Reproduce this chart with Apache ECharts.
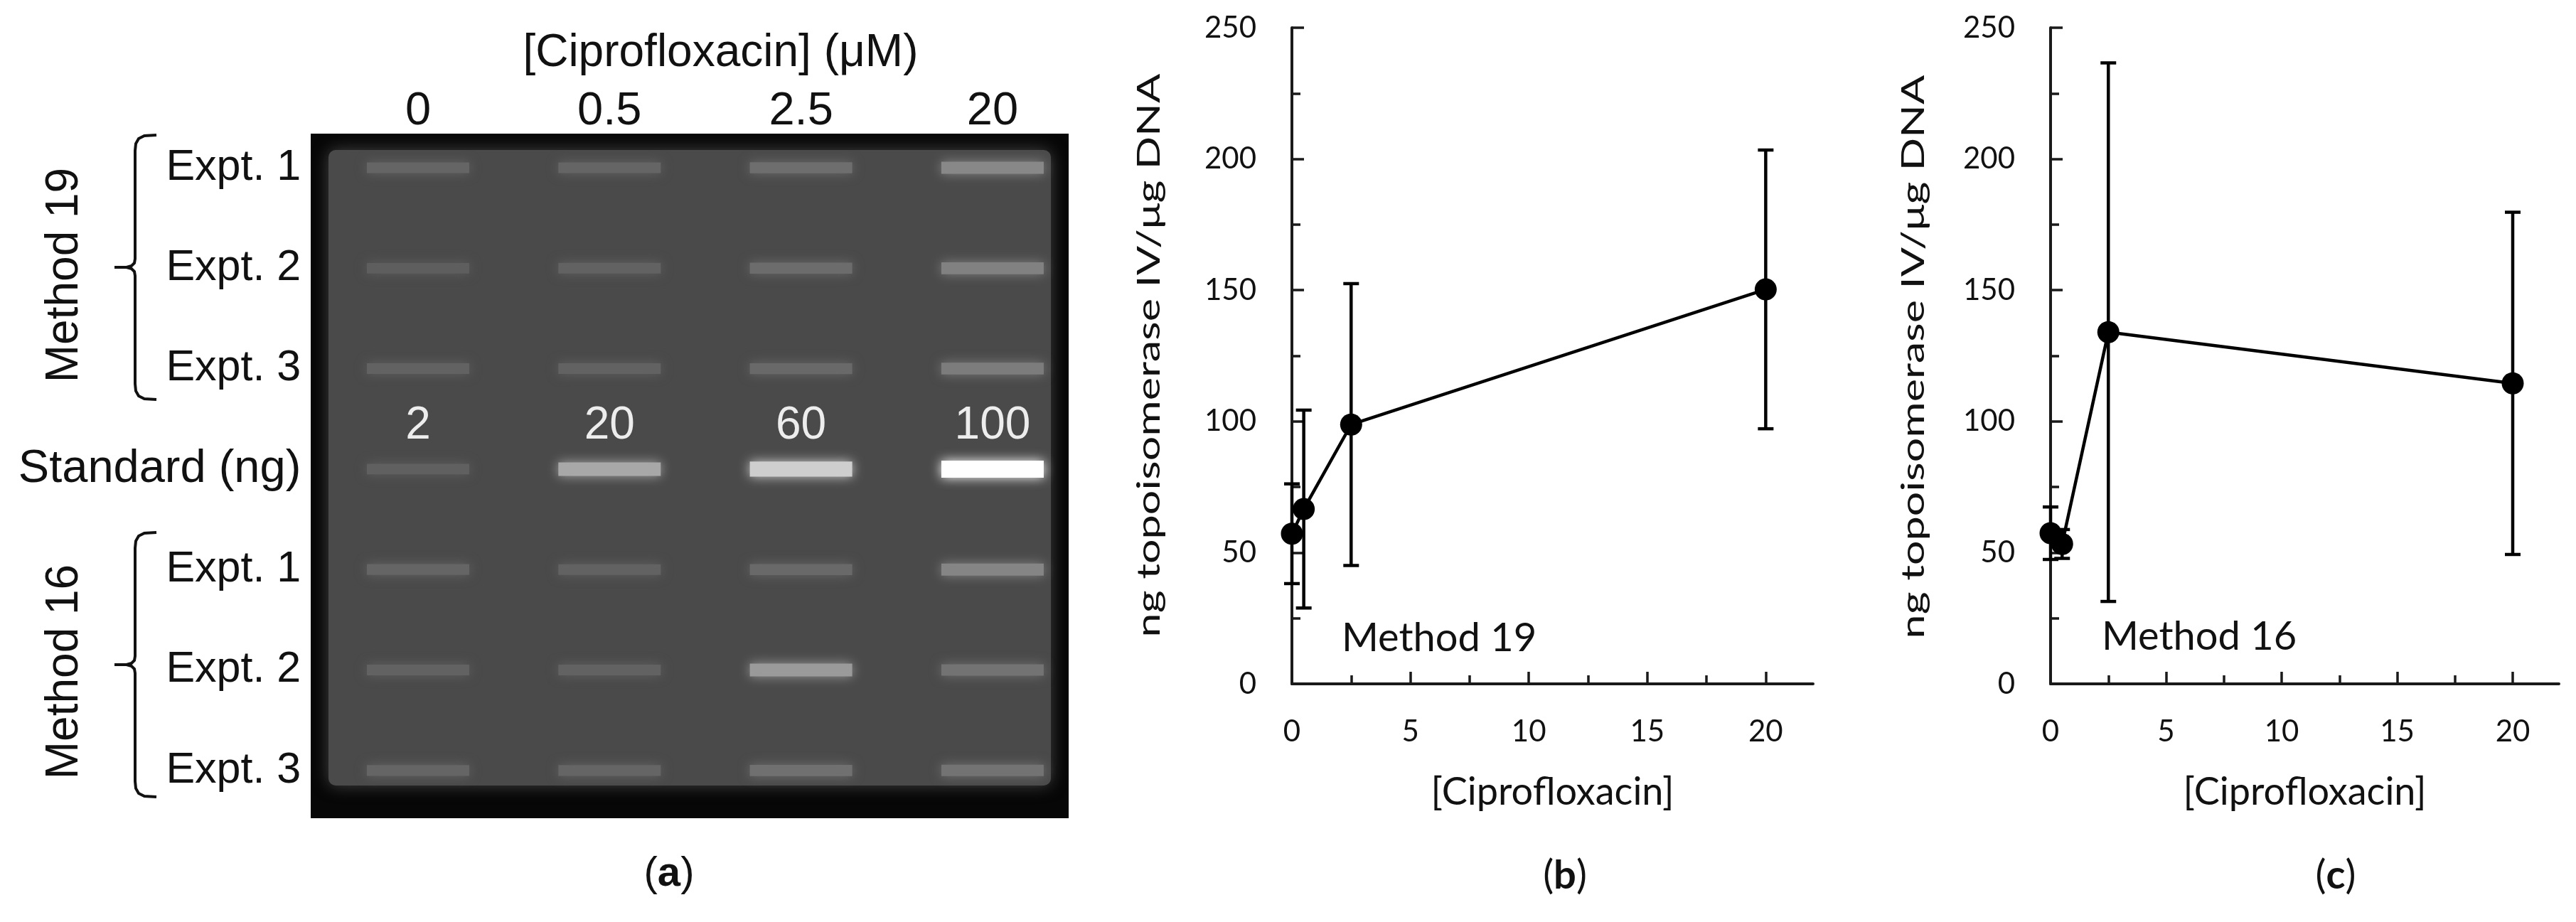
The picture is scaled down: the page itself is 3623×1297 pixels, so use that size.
<!DOCTYPE html>
<html>
<head>
<meta charset="utf-8">
<script src="https://cdn.jsdelivr.net/npm/echarts@6/dist/echarts.min.js"></script>
<style>
html,body{margin:0;padding:0;background:#ffffff;}
#chart{width:3623px;height:1297px;}
</style>
</head>
<body>
<div id="chart"></div>
<script>
// ---------- data ----------
const laneLabels = ['0', '0.5', '2.5', '20'];
const rowLabels = ['Expt. 1', 'Expt. 2', 'Expt. 3', 'Standard (ng)', 'Expt. 1', 'Expt. 2', 'Expt. 3'];
const standardNg = [2, 20, 60, 100];
// relative band brightness (0..1) for lanes 0, 0.5, 2.5, 20 µM
const bandM19E1 = [0.12, 0.12, 0.17, 0.32];
const bandM19E2 = [0.08, 0.10, 0.16, 0.28];
const bandM19E3 = [0.10, 0.10, 0.14, 0.25];
const bandStd   = [0.09, 0.50, 0.72, 1.00];
const bandM16E1 = [0.12, 0.10, 0.14, 0.30];
const bandM16E2 = [0.10, 0.10, 0.42, 0.20];
const bandM16E3 = [0.12, 0.12, 0.18, 0.20];

const conc = [0, 0.5, 2.5, 20];
const m19Mean = [57.2, 66.6, 98.8, 150.3];
const m19Err  = [19.0, 37.7, 53.7, 53.1];
const m16Mean = [57.4, 53.3, 134.0, 114.5];
const m16Err  = [10.0, 5.5, 102.6, 65.2];

const xMajorTicks = [0, 5, 10, 15, 20];
const xMinorTicks = [2.5, 7.5, 12.5, 17.5];
const yTitle = 'ng topoisomerase IV/\u03bcg DNA';
const xTitle = '[Ciprofloxacin]';

// ---------- build ----------
const ARIAL = 'Liberation Sans';
const CAL = 'Lato';
const INK = '#111111';

const gelRows = [bandM19E1, bandM19E2, bandM19E3, bandStd, bandM16E1, bandM16E2, bandM16E3];
const gelData = [];
gelRows.forEach(function (row, r) {
  row.forEach(function (v, c) {
    const g = Math.round(80 + v * 175);
    const col = 'rgb(' + g + ',' + g + ',' + g + ')';
    const item = { value: [c, r, v], itemStyle: { color: col, shadowColor: col } };
    if (r === 3) item.label = { show: true, formatter: String(standardNg[c]) };
    gelData.push(item);
  });
});

function errData(mean, err) {
  return conc.map(function (x, i) { return [x, mean[i] - err[i], mean[i] + err[i]]; });
}
function lineData(mean) {
  return conc.map(function (x, i) { return [x, mean[i]]; });
}
function renderErr(params, api) {
  const x = api.value(0), lo = api.value(1), hi = api.value(2);
  const p1 = api.coord([x, lo]), p2 = api.coord([x, hi]);
  const hw = 11;
  const st = { stroke: '#000', lineWidth: 4.5 };
  return {
    type: 'group',
    children: [
      { type: 'line', shape: { x1: p1[0], y1: p1[1], x2: p2[0], y2: p2[1] }, style: st },
      { type: 'line', shape: { x1: p1[0] - hw, y1: p1[1], x2: p1[0] + hw, y2: p1[1] }, style: st },
      { type: 'line', shape: { x1: p2[0] - hw, y1: p2[1], x2: p2[0] + hw, y2: p2[1] }, style: st }
    ]
  };
}

function valueX(gridIndex) {
  return {
    type: 'value', gridIndex: gridIndex, min: 0, max: 22, position: 'bottom',
    axisLine: { show: true, onZero: false, lineStyle: { color: '#1a1a1a', width: 4 } },
    axisTick: { show: true, inside: true, length: 17, customValues: xMajorTicks, lineStyle: { color: '#1a1a1a', width: 3.5 } },
    axisLabel: { show: true, customValues: xMajorTicks, margin: 46, fontSize: 42, fontFamily: CAL, color: INK },
    splitLine: { show: false },
    name: xTitle, nameLocation: 'middle', nameGap: 126,
    nameTextStyle: { fontSize: 54, fontFamily: CAL, color: INK }
  };
}
function minorX(gridIndex) {
  return {
    type: 'value', gridIndex: gridIndex, min: 0, max: 22, position: 'bottom',
    axisLine: { show: false, onZero: false },
    axisTick: { show: true, inside: true, length: 12, customValues: xMinorTicks, lineStyle: { color: '#1a1a1a', width: 3.5 } },
    axisLabel: { show: false },
    splitLine: { show: false }
  };
}
function valueY(gridIndex) {
  return {
    type: 'value', gridIndex: gridIndex, min: 0, max: 250, interval: 50,
    axisLine: { show: true, onZero: false, lineStyle: { color: '#1a1a1a', width: 4 } },
    axisTick: { show: true, inside: true, length: 17, lineStyle: { color: '#1a1a1a', width: 3.5 } },
    minorTick: { show: true, splitNumber: 2, length: 12, lineStyle: { color: '#1a1a1a', width: 3.5 } },
    axisLabel: { margin: 50, fontSize: 42, fontFamily: CAL, color: INK },
    splitLine: { show: false }
  };
}

// curly-ish bracket as two polylines
function bracket(top, mid, bot) {
  const xr = 220, xv = 190, xt = 161;
  const st = { stroke: '#111', lineWidth: 4, fill: null };
  return [
    { type: 'polyline', shape: { points: [[xr, top], [203, top + 1], [195, top + 5], [191, top + 12], [xv, top + 22],
      [xv, mid - 12], [189, mid - 6], [185, mid - 2], [178, mid], [xt, mid]] }, style: st },
    { type: 'polyline', shape: { points: [[178, mid], [185, mid + 2], [189, mid + 6], [xv, mid + 12],
      [xv, bot - 22], [191, bot - 12], [195, bot - 5], [203, bot - 1], [xr, bot]] }, style: st }
  ];
}

const graphics = [
  { type: 'rect', z: 0, shape: { x: 437, y: 188, width: 1066, height: 963 }, style: { fill: '#070707' } },
  { type: 'rect', z: 0, shape: { x: 462, y: 211, width: 1016, height: 894, r: 10 },
    style: { fill: '#4a4a4a', shadowBlur: 22, shadowColor: '#444444' } },
  { type: 'text', x: 91, y: 387, rotation: Math.PI / 2,
    style: { text: 'Method 19', fontSize: 64, fontFamily: ARIAL, fill: INK, align: 'center', verticalAlign: 'middle' } },
  { type: 'text', x: 91, y: 945, rotation: Math.PI / 2,
    style: { text: 'Method 16', fontSize: 64, fontFamily: ARIAL, fill: INK, align: 'center', verticalAlign: 'middle' } },
  { type: 'text', x: 941, y: 1230,
    style: { text: '({b|a})', fontSize: 58, fontFamily: ARIAL, fill: INK, align: 'center', verticalAlign: 'middle',
      rich: { b: { fontSize: 58, fontFamily: ARIAL, fontWeight: 'bold', fill: INK } } } },
  { type: 'text', x: 1617, y: 500, rotation: Math.PI / 2, scaleX: 1.39,
    style: { text: yTitle, fontSize: 44, fontFamily: CAL, fill: INK, align: 'center', verticalAlign: 'middle' } },
  { type: 'text', x: 2692, y: 502, rotation: Math.PI / 2, scaleX: 1.39,
    style: { text: yTitle, fontSize: 44, fontFamily: CAL, fill: INK, align: 'center', verticalAlign: 'middle' } },
  { type: 'text', x: 2024, y: 898,
    style: { text: 'Method 19', fontSize: 56, fontFamily: CAL, fill: INK, align: 'center', verticalAlign: 'middle' } },
  { type: 'text', x: 3093, y: 896,
    style: { text: 'Method 16', fontSize: 56, fontFamily: CAL, fill: INK, align: 'center', verticalAlign: 'middle' } },
  { type: 'text', x: 2201, y: 1232,
    style: { text: '({b|b})', fontSize: 56, fontFamily: CAL, fill: INK, align: 'center', verticalAlign: 'middle',
      rich: { b: { fontSize: 56, fontFamily: CAL, fontWeight: 'bold', fill: INK } } } },
  { type: 'text', x: 3285, y: 1232,
    style: { text: '({b|c})', fontSize: 56, fontFamily: CAL, fill: INK, align: 'center', verticalAlign: 'middle',
      rich: { b: { fontSize: 56, fontFamily: CAL, fontWeight: 'bold', fill: INK } } } }
].concat(bracket(190, 376, 562), bracket(749, 935, 1121));

const option = {
  animation: false,
  backgroundColor: '#ffffff',
  grid: [
    { left: 453.3, top: 165.35, width: 1077.3, height: 989.1 },
    { left: 1817, top: 39, width: 733, height: 923 },
    { left: 2884, top: 39, width: 715, height: 923 }
  ],
  xAxis: [
    {
      type: 'category', gridIndex: 0, data: laneLabels, position: 'top',
      axisLine: { show: false }, axisTick: { show: false }, splitLine: { show: false },
      axisLabel: { interval: 0, margin: -24, fontSize: 65, fontFamily: ARIAL, color: INK },
      name: '[Ciprofloxacin] (\u03bcM)', nameLocation: 'middle', nameGap: 58,
      nameTextStyle: { fontSize: 64, fontFamily: ARIAL, color: INK, padding: [0, 0, 0, 43] }
    },
    valueX(1), minorX(1),
    valueX(2), minorX(2)
  ],
  yAxis: [
    {
      type: 'category', gridIndex: 0, data: rowLabels, inverse: true,
      axisLine: { show: false }, axisTick: { show: false }, splitLine: { show: false },
      axisLabel: {
        interval: 0, margin: 30, fontSize: 61, fontFamily: ARIAL, color: INK,
        formatter: function (v, i) { return i === 3 ? '{s|' + v + '}' : v; },
        rich: { s: { fontSize: 65, fontFamily: ARIAL, color: INK } }
      }
    },
    valueY(1), valueY(2)
  ],
  graphic: graphics,
  series: [
    {
      type: 'scatter', xAxisIndex: 0, yAxisIndex: 0, symbol: 'rect', silent: true, z: 3,
      symbolSize: function (v) { return [144, 14 + v[2] * 10]; },
      itemStyle: { shadowBlur: 16, opacity: 1 },
      label: { show: false, position: 'inside', offset: [0, -61], color: '#ededed', fontSize: 64, fontFamily: ARIAL },
      data: gelData
    },
    {
      type: 'custom', xAxisIndex: 1, yAxisIndex: 1, renderItem: renderErr,
      encode: { x: 0, y: [1, 2] }, data: errData(m19Mean, m19Err), z: 3
    },
    {
      type: 'line', xAxisIndex: 1, yAxisIndex: 1, data: lineData(m19Mean), clip: false, z: 4,
      symbol: 'circle', symbolSize: 31, lineStyle: { color: '#000', width: 4.5 }, itemStyle: { color: '#000' }
    },
    {
      type: 'custom', xAxisIndex: 3, yAxisIndex: 2, renderItem: renderErr,
      encode: { x: 0, y: [1, 2] }, data: errData(m16Mean, m16Err), z: 3
    },
    {
      type: 'line', xAxisIndex: 3, yAxisIndex: 2, data: lineData(m16Mean), clip: false, z: 4,
      symbol: 'circle', symbolSize: 31, lineStyle: { color: '#000', width: 4.5 }, itemStyle: { color: '#000' }
    }
  ]
};

const chart = echarts.init(document.getElementById('chart'), null, { renderer: 'canvas' });
chart.setOption(option);
</script>
</body>
</html>
